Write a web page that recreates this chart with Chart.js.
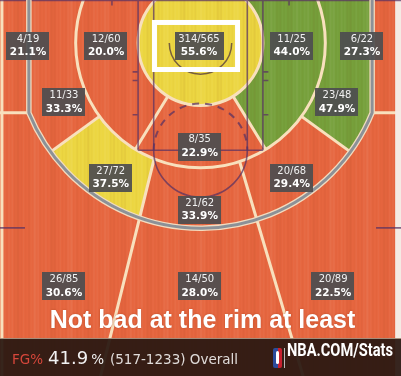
<!DOCTYPE html>
<html>
<head>
  <title>Shot Chart</title>
  <style>
    body { margin: 0; background: #fff; }
    #wrap { position: relative; width: 401px; height: 376px; overflow: hidden; }
    #court { position: absolute; left: 0; top: 0; }
    #caption {
      position: absolute; left: 0; top: 305px; width: 405px;
      text-align: center; color: #fff;
      font: bold 25px "Liberation Sans", Arial, sans-serif;
      text-shadow: 0 0 2px rgba(140, 50, 20, 0.5);
    }
    #bar {
      position: absolute; left: 0; top: 338px; width: 401px; height: 38px;
      background: rgba(42, 24, 18, 0.94);
      border-top: 1px solid rgba(255, 232, 205, 0.55);
      font-family: "DejaVu Sans", Verdana, sans-serif;
      white-space: nowrap;
    }
    #fgline { position: absolute; left: 12px; top: 0; line-height: 37px; }
    .fg { color: #d7473b; font-size: 13.5px; }
    .big { color: #f2f2f2; font-size: 18px; margin-left: 5px; }
    .pct { color: #f2f2f2; font-size: 13.5px; margin-left: 3px; }
    .cnt { color: #e0dcda; font-size: 13.5px; margin-left: 6px; }
    #logo {
      position: absolute; left: 273px; top: 9px; width: 9px; height: 20px; border-radius: 2px;
      background: linear-gradient(to right, #2b4b9b 50%, #c8202f 50%);
    }
    #logo i { position: absolute; left: 3px; top: 3px; width: 3px; height: 13px; background: #fff; border-radius: 2px; }
    #sep { position: absolute; left: 284px; top: 9px; width: 1px; height: 20px; background: #bbb; }
    #brand {
      position: absolute; left: 287px; top: 0; line-height: 37px;
      color: #fff; font: bold 18px Roboto, "Liberation Sans", sans-serif;
      transform-origin: 0 50%;
    }
  </style>
</head>
<body>
<div id="wrap">
  <canvas id="court" width="401" height="376"></canvas>
  <div id="caption">Not bad at the rim at least</div>
  <div id="bar">
    <div id="fgline"><span class="fg">FG%</span><span class="big" id="fgPct"></span><span class="pct">%</span><span class="cnt" id="fgCount"></span></div>
    <div id="logo"><i></i></div>
    <div id="sep"></div>
    <div id="brand">NBA.COM/Stats</div>
  </div>
</div>

<script src="https://cdn.jsdelivr.net/npm/chart.js"></script>
<script>
  // shot zones, in the order the zone shapes are built below
  const zoneNames = [
    'Left Corner 3', 'Left Side 8-16 ft.', 'Restricted Area', 'Right Side 8-16 ft.', 'Right Corner 3',
    'Left Side 16-24 ft.', 'Right Side 16-24 ft.', 'Center 8-16 ft.', 'Left Side Center 16-24 ft.',
    'Right Side Center 16-24 ft.', 'Center 16-24 ft.', 'Left Side Center 24+ ft.', 'Center 24+ ft.',
    'Right Side Center 24+ ft.'
  ];
  const made =     [4, 12, 314, 11, 6, 11, 23, 8, 27, 20, 21, 26, 14, 20];
  const attempts = [19, 60, 565, 25, 22, 33, 48, 35, 72, 68, 62, 85, 50, 89];
  const rating = ['below', 'below', 'average', 'above', 'below', 'below', 'above', 'below',
                  'average', 'below', 'below', 'below', 'below', 'below'];

  const ratingColor = { below: '#e6663f', average: '#ecd641', above: '#76a03b' };

  // where each zone's label sits (feet, basket at 0,0, y towards half court)
  const labelAt = [
    [-22.1, 0.4], [-12.1, 0.4], [-0.2, 0.4], [11.7, 0.4], [20.7, 0.4],
    [-17.5, 7.6], [17.5, 7.6], [-0.1, 13.3], [-11.5, 17.3], [11.7, 17.3],
    [-0.1, 21.4], [-17.5, 31.2], [-0.1, 31.2], [17.0, 31.2]
  ];

  // court geometry, feet
  const R_RA = 8, R_MID = 16, R_3 = 23.75, CORNER_X = 22;
  const CORNER_Y = Math.sqrt(R_3 * R_3 - CORNER_X * CORNER_X);
  const CENTER_RAY = 31.5;   // deg from straight down, 8-16 ft center wedge
  const SIDE_RAY = 36;       // deg below horizontal, 16-24 ft side split
  const lineL = [[-6.1, 15.5], [-11.6, 37.8]];
  const lineR = [[5.1, 15.5], [11.7, 37.8]];
  const HILITE = { x: -5.9, y: -2.63, w: 10.65, h: 6.03 };

  const rad = d => d * Math.PI / 180;
  const ang = p => Math.atan2(p[1], p[0]);
  function hitCircle(line, r) {
    const [p, q] = line;
    const dx = q[0] - p[0], dy = q[1] - p[1];
    const a = dx * dx + dy * dy, b = 2 * (p[0] * dx + p[1] * dy), c = p[0] * p[0] + p[1] * p[1] - r * r;
    const t = (-b + Math.sqrt(b * b - 4 * a * c)) / (2 * a);
    return [p[0] + t * dx, p[1] + t * dy];
  }
  function atY(line, y) {
    const [p, q] = line;
    return [p[0] + (q[0] - p[0]) * (y - p[1]) / (q[1] - p[1]), y];
  }

  const courtPlugin = {
    id: 'court',
    beforeDatasetsDraw(chart) {
      const ctx = chart.ctx, xs = chart.scales.x, ys = chart.scales.y;
      const X = v => xs.getPixelForValue(v), Y = v => ys.getPixelForValue(v);
      const k = X(1) - X(0), bx = X(0), by = Y(0);
      const arc = (r, a0, a1, ccw) => ctx.arc(bx, by, r * k, a0, a1, !!ccw);
      const mv = (x, y) => ctx.moveTo(X(x), Y(y));
      const to = (x, y) => ctx.lineTo(X(x), Y(y));
      const onC = (r, a) => [bx + r * k * Math.cos(a), by + r * k * Math.sin(a)];

      const aC = rad(90 - CENTER_RAY), aC2 = rad(90 + CENTER_RAY);
      const aS = rad(SIDE_RAY), aS2 = rad(180 - SIDE_RAY);
      const aCorner = Math.atan2(CORNER_Y, CORNER_X), aCorner2 = Math.PI - aCorner;
      const L16 = hitCircle(lineL, R_MID), L3 = hitCircle(lineL, R_3);
      const R16 = hitCircle(lineR, R_MID), R3 = hitCircle(lineR, R_3);
      const Lb = atY(lineL, 45), Rb = atY(lineR, 45);
      const top = -12, far = 30;

      const shapes = [
        () => { mv(-far, top); to(-CORNER_X, top); to(-CORNER_X, CORNER_Y); to(-far, CORNER_Y); },
        () => { arc(R_MID, aC2, rad(270)); arc(R_RA, rad(270), aC2, true); },
        () => { arc(R_RA, 0, Math.PI * 2); },
        () => { arc(R_MID, rad(-90), aC); arc(R_RA, aC, rad(-90), true); },
        () => { mv(far, top); to(CORNER_X, top); to(CORNER_X, CORNER_Y); to(far, CORNER_Y); },
        () => { ctx.moveTo(...onC(R_MID, aS2)); arc(R_3, aS2, aCorner2); to(-CORNER_X, top); arc(R_MID, rad(270), aS2, true); },
        () => { ctx.moveTo(...onC(R_MID, aS)); arc(R_3, aS, aCorner, true); to(CORNER_X, top); arc(R_MID, rad(-90), aS); },
        () => { arc(R_MID, aC, aC2); arc(R_RA, aC2, aC, true); },
        () => { arc(R_MID, ang(L16), aS2); arc(R_3, aS2, ang(L3), true); },
        () => { arc(R_MID, aS, ang(R16)); arc(R_3, ang(R3), aS, true); },
        () => { arc(R_MID, ang(R16), ang(L16)); arc(R_3, ang(L3), ang(R3), true); },
        () => { mv(-far, CORNER_Y); to(-CORNER_X, CORNER_Y); arc(R_3, aCorner2, ang(L3), true); to(Lb[0], Lb[1]); to(-far, 45); },
        () => { arc(R_3, ang(R3), ang(L3)); to(Lb[0], Lb[1]); to(Rb[0], Rb[1]); },
        () => { mv(far, CORNER_Y); to(CORNER_X, CORNER_Y); arc(R_3, aCorner, ang(R3)); to(Rb[0], Rb[1]); to(far, 45); }
      ];

      ctx.save();
      const ca = chart.chartArea;
      ctx.fillStyle = ratingColor.below;
      ctx.fillRect(ca.left, ca.top, ca.width, ca.height);
      shapes.forEach((build, i) => {
        ctx.beginPath();
        build();
        ctx.closePath();
        ctx.fillStyle = ratingColor[rating[i]];
        ctx.fill();
      });

      // wood grain
      for (let x = Math.floor(ca.left); x < ca.right; x++) {
        const v = (Math.sin(x * 1.7) + Math.sin(x * 0.53 + 2) + Math.sin(x * 0.19 + 1)) / 3;
        ctx.fillStyle = v > 0 ? `rgba(255,255,255,${0.07 * v})` : `rgba(110,30,0,${-0.07 * v})`;
        ctx.fillRect(x, ca.top, 1, ca.height);
      }

      // zone borders
      ctx.strokeStyle = '#f8e0bd';
      ctx.lineWidth = 3;
      ctx.beginPath(); arc(R_RA, 0, Math.PI * 2); ctx.stroke();
      ctx.beginPath(); arc(R_MID, 0, Math.PI * 2); ctx.stroke();
      ctx.beginPath();
      [aC, aC2].forEach(a => { ctx.moveTo(...onC(R_RA, a)); ctx.lineTo(...onC(R_MID, a)); });
      [aS, aS2].forEach(a => { ctx.moveTo(...onC(R_MID, a)); ctx.lineTo(...onC(R_3, a)); });
      mv(L16[0], L16[1]); to(Lb[0], Lb[1]);
      mv(R16[0], R16[1]); to(Rb[0], Rb[1]);
      mv(-far, CORNER_Y); to(-CORNER_X, CORNER_Y);
      mv(far, CORNER_Y); to(CORNER_X, CORNER_Y);
      mv(-25.45, top); to(-25.45, 45);
      ctx.stroke();

      // right margin
      ctx.fillStyle = '#f4ebe4';
      ctx.fillRect(X(24.95), ca.top, ca.right - X(24.95), ca.height);

      // court markings
      ctx.strokeStyle = 'rgba(88,48,98,0.72)';
      ctx.lineWidth = 1.6;
      ctx.beginPath();
      [-8, -6, 6, 8].forEach(x => { mv(x, top); to(x, 13.75); });
      mv(-8, 13.75); to(8, 13.75);
      [3.7, 4.8, 9.2].forEach(y => { mv(-8.7, y); to(-8, y); mv(8, y); to(8.7, y); });
      mv(-26, 23.7); to(-22.5, 23.7); mv(22.5, 23.7); to(26, 23.7);
      [-11.35, 11.35].forEach(x => { mv(x, -6); to(x, -4.8); });
      mv(-26, -5.45); to(26, -5.45);
      ctx.stroke();
      ctx.beginPath();
      ctx.arc(X(0), Y(13.75), 6 * k, 0, Math.PI);
      ctx.stroke();
      ctx.setLineDash([7, 6]);
      ctx.lineWidth = 2;
      ctx.beginPath();
      ctx.arc(X(0), Y(13.75), 6 * k, Math.PI, Math.PI * 2);
      ctx.stroke();
      ctx.setLineDash([]);
      ctx.strokeStyle = 'rgba(80,55,60,0.75)';
      ctx.lineWidth = 1.5;
      ctx.beginPath(); arc(4, 0, Math.PI); ctx.stroke();

      // three point line
      const threePath = () => {
        ctx.beginPath();
        mv(-CORNER_X, top); to(-CORNER_X, CORNER_Y);
        arc(R_3, aCorner2, aCorner, true);
        to(CORNER_X, top);
      };
      threePath(); ctx.strokeStyle = '#f2dcc0'; ctx.lineWidth = 5.5; ctx.stroke();
      threePath(); ctx.strokeStyle = '#8c9197'; ctx.lineWidth = 3; ctx.stroke();

      // highlighted zone box
      ctx.strokeStyle = '#ffffff';
      ctx.lineWidth = 5;
      ctx.strokeRect(X(HILITE.x), Y(HILITE.y), HILITE.w * k, HILITE.h * k);
      ctx.restore();
    },
    afterDatasetsDraw(chart) {
      const ctx = chart.ctx;
      const meta = chart.getDatasetMeta(0);
      ctx.save();
      meta.data.forEach((pt, i) => {
        const top = made[i] + '/' + attempts[i];
        const pct = (made[i] / attempts[i] * 100).toFixed(1) + '%';
        ctx.font = '10px "DejaVu Sans", Verdana, sans-serif';
        const w1 = ctx.measureText(top).width;
        ctx.font = 'bold 10.5px "DejaVu Sans", Verdana, sans-serif';
        const w2 = ctx.measureText(pct).width;
        const w = Math.max(42, Math.max(w1, w2) + 7), h = 28;
        ctx.fillStyle = 'rgba(78,78,80,0.93)';
        ctx.fillRect(Math.round(pt.x - w / 2), Math.round(pt.y - h / 2), Math.round(w), h);
        ctx.textAlign = 'center';
        ctx.textBaseline = 'middle';
        ctx.fillStyle = '#f1f1f1';
        ctx.font = '10px "DejaVu Sans", Verdana, sans-serif';
        ctx.fillText(top, pt.x, pt.y - 7);
        ctx.fillStyle = '#ffffff';
        ctx.font = 'bold 10.5px "DejaVu Sans", Verdana, sans-serif';
        ctx.fillText(pct, pt.x, pt.y + 6.5);
      });
      ctx.restore();
    }
  };

  new Chart(document.getElementById('court').getContext('2d'), {
    type: 'scatter',
    data: {
      labels: zoneNames,
      datasets: [{
        data: labelAt.map(([x, y]) => ({ x, y })),
        pointRadius: 0
      }]
    },
    options: {
      responsive: false,
      animation: false,
      events: [],
      layout: { padding: 0 },
      plugins: { legend: { display: false }, tooltip: { enabled: false } },
      scales: {
        x: { type: 'linear', min: -25.7, max: 25.7, display: false },
        y: { type: 'linear', min: -5.51, max: 42.69, reverse: true, display: false }
      }
    },
    plugins: [courtPlugin]
  });

  const totalMade = made.reduce((a, b) => a + b, 0);
  const totalAtt = attempts.reduce((a, b) => a + b, 0);
  document.getElementById('fgPct').textContent = (totalMade / totalAtt * 100).toFixed(1);
  document.getElementById('fgCount').textContent = `(${totalMade}-${totalAtt}) Overall`;

  const brand = document.getElementById('brand');
  brand.style.transform = `scaleX(${106 / brand.getBoundingClientRect().width})`;
</script>
</body>
</html>
